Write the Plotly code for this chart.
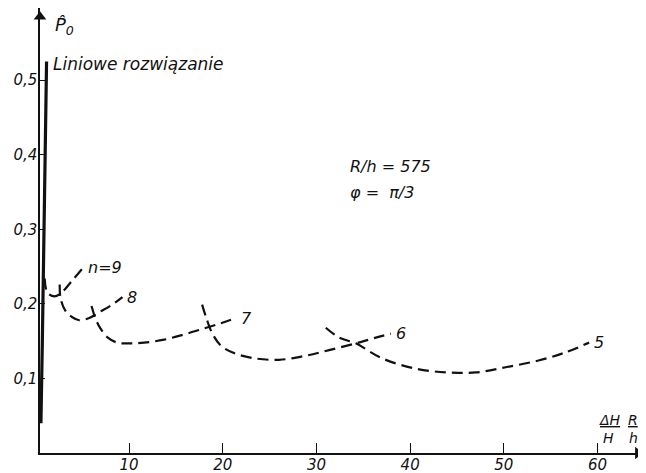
import plotly.graph_objects as go

# ---- data ----
lin_x = [1.2, 0.95, 0.75, 0.6]
lin_y = [0.525, 0.35, 0.15, 0.04]

n9_x = [1.0, 1.3, 2.05, 2.8, 3.85, 5.15]
n9_y = [0.234, 0.215, 0.210, 0.215, 0.230, 0.249]

n8_x = [2.6, 2.7, 3.2, 3.95, 4.7, 5.75, 6.85, 8.1, 9.3]
n8_y = [0.226, 0.207, 0.191, 0.182, 0.178, 0.181, 0.189, 0.198, 0.209]

n7_x = [6.0, 6.4, 6.95, 7.7, 8.75, 10.0, 11.6, 13.75, 15.9, 18.0, 19.8, 21.4]
n7_y = [0.197, 0.181, 0.167, 0.155, 0.148, 0.147, 0.148, 0.152, 0.159, 0.167, 0.174, 0.181]

n6_x = [17.8, 18.25, 18.9, 19.8, 21.2, 23.35, 26.0, 28.7, 31.35, 34.2, 36.15, 37.95]
n6_y = [0.199, 0.181, 0.160, 0.144, 0.134, 0.127, 0.125, 0.130, 0.138, 0.147, 0.154, 0.160]

n5_x = [31.0, 32.4, 34.2, 37.0, 40.6, 44.1, 47.0, 50.2, 53.7, 56.6, 59.1]
n5_y = [0.168, 0.155, 0.147, 0.127, 0.113, 0.108, 0.108, 0.115, 0.124, 0.135, 0.148]

curves = [("n=9", n9_x, n9_y), ("8", n8_x, n8_y), ("7", n7_x, n7_y),
          ("6", n6_x, n6_y), ("5", n5_x, n5_y)]

x_ticks = [10, 20, 30, 40, 50, 60]
x_ticktext = ["10", "20", "30", "40", "50", "60"]
y_ticks = [0.1, 0.2, 0.3, 0.4, 0.5]
y_ticktext = ["0,1", "0,2", "0,3", "0,4", "0,5"]

FONT = "DejaVu Sans, Liberation Sans, Arial, sans-serif"
INK = "#111111"

XMIN = 0.5
XMAX = 65.17
YMAX = 0.5967

fig = go.Figure()

fig.add_trace(go.Scatter(x=lin_x, y=lin_y, mode="lines",
                         line=dict(color=INK, width=3.2), showlegend=False,
                         hoverinfo="skip"))

for name, xs, ys in curves:
    fig.add_trace(go.Scatter(x=xs, y=ys, mode="lines",
                             line=dict(color=INK, width=2.2, dash="11px,6px",
                                       shape="spline", smoothing=1.0),
                             showlegend=False, hoverinfo="skip"))

# axis arrowheads
fig.add_trace(go.Scatter(x=[XMIN], y=[0.585], mode="markers", cliponaxis=False,
                         marker=dict(symbol="triangle-up", size=11, color=INK),
                         showlegend=False, hoverinfo="skip"))
fig.add_trace(go.Scatter(x=[64.3], y=[0], mode="markers", cliponaxis=False,
                         marker=dict(symbol="triangle-right", size=11, color=INK),
                         showlegend=False, hoverinfo="skip"))

ann_font = dict(family=FONT, size=16, color=INK, style="italic")
annotations = []
for name, xs, ys in curves:
    annotations.append(dict(x=xs[-1] + 0.3, y=ys[-1], xref="x", yref="y",
                            text=name, showarrow=False, xanchor="left",
                            yanchor="middle", font=ann_font))

small = dict(family=FONT, size=14, color=INK, style="italic")
annotations += [
    dict(x=1.7, y=0.521, xref="x", yref="y", text="Liniowe rozwiązanie",
         showarrow=False, xanchor="left", yanchor="middle",
         font=dict(family=FONT, size=17, color=INK, style="italic")),
    dict(x=33.4, y=0.384, xref="x", yref="y", text="R/h = 575",
         showarrow=False, xanchor="left", yanchor="middle", font=ann_font),
    dict(x=33.4, y=0.349, xref="x", yref="y", text="φ =  π/3",
         showarrow=False, xanchor="left", yanchor="middle", font=ann_font),
    dict(x=1.9, y=0.572, xref="x", yref="y", text="P̂<sub>0</sub>",
         showarrow=False, xanchor="left", yanchor="middle",
         font=dict(family=FONT, size=18, color=INK, style="italic")),
    # x-axis label: (ΔH/H)(R/h)
    dict(x=61.3, y=0.044, xref="x", yref="y", text="<u>ΔH</u>",
         showarrow=False, xanchor="center", yanchor="middle", font=small),
    dict(x=61.2, y=0.020, xref="x", yref="y", text="H",
         showarrow=False, xanchor="center", yanchor="middle", font=small),
    dict(x=63.8, y=0.044, xref="x", yref="y", text="<u>R</u>",
         showarrow=False, xanchor="center", yanchor="middle", font=small),
    dict(x=63.8, y=0.020, xref="x", yref="y", text="h",
         showarrow=False, xanchor="center", yanchor="middle", font=small),
]

# page is shown with an 8px body margin, so the figure is 8px smaller
fig.update_layout(
    width=638, height=465,
    margin=dict(l=32, r=0, t=0, b=20),
    paper_bgcolor="white", plot_bgcolor="white",
    annotations=annotations,
    font=dict(family=FONT, color=INK),
)

fig.update_xaxes(range=[XMIN, XMAX], showgrid=False, zeroline=False,
                 automargin=False,
                 showline=True, linecolor=INK, linewidth=1.5,
                 ticks="inside", ticklen=10, tickwidth=1.2, tickcolor=INK,
                 tickvals=x_ticks, ticktext=x_ticktext, ticklabelstandoff=-3,
                 tickfont=dict(family=FONT, size=15, color=INK, style="italic"))
fig.update_yaxes(range=[0, YMAX], showgrid=False, zeroline=False,
                 automargin=False,
                 showline=True, linecolor=INK, linewidth=1.5,
                 ticks="inside", ticklen=5, tickwidth=1.2, tickcolor=INK,
                 tickvals=y_ticks, ticktext=y_ticktext, ticklabelstandoff=-2,
                 tickfont=dict(family=FONT, size=15, color=INK, style="italic"))

fig.write_html("out.html")
